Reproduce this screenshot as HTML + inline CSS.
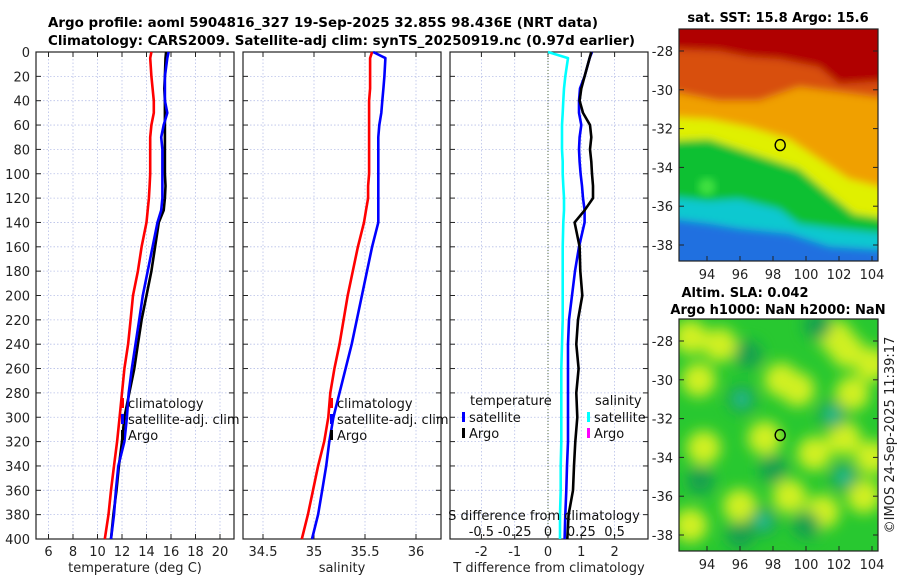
<!DOCTYPE html>
<html><head><meta charset="utf-8"><style>
body{margin:0;background:#fff;}
svg text{font-family:"DejaVu Sans","Liberation Sans",sans-serif;}
</style></head><body>
<svg id="fig" width="900" height="580" xmlns="http://www.w3.org/2000/svg">
<defs>
<filter id="bl" x="-20%" y="-20%" width="140%" height="140%"><feGaussianBlur stdDeviation="4"/></filter>
<filter id="bl2" x="-50%" y="-50%" width="200%" height="200%"><feGaussianBlur stdDeviation="7"/></filter>
<clipPath id="c1"><rect x="679" y="29" width="199" height="232"/></clipPath>
<clipPath id="c2"><rect x="679" y="319" width="199" height="232"/></clipPath>
</defs>
<text x="48" y="27" font-size="13.5" font-weight="bold" textLength="550" lengthAdjust="spacingAndGlyphs">Argo profile: aoml 5904816_327 19-Sep-2025 32.85S 98.436E (NRT data)</text>
<text x="48" y="45" font-size="13.5" font-weight="bold" textLength="587" lengthAdjust="spacingAndGlyphs">Climatology: CARS2009. Satellite-adj clim: synTS_20250919.nc (0.97d earlier)</text>
<g id="panels"></g>
<g id="maps"></g>
<text transform="translate(894,435) rotate(-90)" font-size="13" text-anchor="middle" fill="#222">©IMOS 24-Sep-2025 11:39:17</text>
</svg>
<script>
const depths = [0,5,20,30,40,50,60,70,80,90,100,110,120,130,140,160,180,200,220,240,260,280,300,320,340,360,380,400];
const tempClim = [14.4,14.3,14.4,14.5,14.6,14.6,14.4,14.3,14.3,14.3,14.3,14.25,14.2,14.1,14.0,13.6,13.3,12.9,12.7,12.5,12.2,12.0,11.8,11.6,11.35,11.1,10.9,10.6];
const tempSat = [15.8,15.7,15.5,15.5,15.5,15.7,15.4,15.2,15.3,15.3,15.3,15.3,15.3,15.2,14.9,14.5,14.1,13.7,13.4,13.1,12.8,12.55,12.4,12.2,11.7,11.5,11.35,11.1];
const tempArgo = [15.6,15.55,15.5,15.45,15.5,15.5,15.5,15.5,15.5,15.5,15.5,15.55,15.5,15.4,15.0,14.7,14.4,14.0,13.6,13.3,13.0,12.6,12.2,12.0,11.75,11.55,11.3,11.1];
const salClim = [35.57,35.55,35.55,35.55,35.54,35.54,35.54,35.54,35.54,35.54,35.54,35.53,35.53,35.51,35.49,35.43,35.38,35.33,35.29,35.25,35.2,35.16,35.14,35.1,35.04,34.99,34.94,34.88];
const salSat = [35.58,35.70,35.69,35.68,35.67,35.66,35.64,35.63,35.63,35.63,35.63,35.63,35.63,35.63,35.63,35.57,35.52,35.47,35.42,35.37,35.31,35.25,35.19,35.15,35.12,35.08,35.04,34.98];
const dTSat = [1.32,1.25,1.1,0.96,0.93,0.93,1.0,0.95,0.93,0.95,0.98,1.02,1.05,1.1,1.1,0.93,0.81,0.72,0.63,0.6,0.6,0.6,0.6,0.6,0.57,0.55,0.52,0.5];
const dTArgo = [1.3,1.25,1.1,1.0,0.95,1.05,1.26,1.3,1.26,1.3,1.32,1.35,1.35,1.1,0.8,0.95,0.97,1.03,0.9,0.85,0.92,0.85,0.88,0.82,0.78,0.75,0.62,0.58];
const dSSat = [0,0.15,0.13,0.12,0.115,0.11,0.105,0.105,0.105,0.11,0.11,0.115,0.12,0.12,0.115,0.11,0.11,0.11,0.11,0.105,0.1,0.1,0.1,0.1,0.095,0.095,0.09,0.09];
const depthTicks = [0,20,40,60,80,100,120,140,160,180,200,220,240,260,280,300,320,340,360,380,400];
const tempTicks = [6,8,10,12,14,16,18,20];
const salTicks = [34.5,35,35.5,36];
const dTTicks = [-2,-1,0,1,2];
const dSTickLabels = ["-0.5","-0.25","0","0.25","0.5"];
const dSTickVals = [-0.5,-0.25,0,0.25,0.5];
const latTicks = [-28,-30,-32,-34,-36,-38];
const lonTicks = [94,96,98,100,102,104];
const argoLon = 98.436, argoLat = -32.85;

const NS="http://www.w3.org/2000/svg";
function mk(tag,attrs,parent,txt){const e=document.createElementNS(NS,tag);for(const k in attrs)e.setAttribute(k,attrs[k]);if(txt!==undefined)e.textContent=txt;parent.appendChild(e);return e;}
const Y0=52,Y1=539;
const yD=d=>Y0+(d/400)*(Y1-Y0);
const xT=t=>48.5+(t-6)*12.25;
const xS=s=>314+(s-35)*102;
const xdT=v=>548+v*33.3;
const xdS=v=>548+v*133.2;
const panels=document.getElementById('panels');

function panel(x0,x1,name,ticks,fx,labels){
  const g=mk('g',{},panels);
  
  
  depthTicks.forEach(d=>{const l=mk('line',{x1:x0,x2:x1,y1:yD(d),y2:yD(d),stroke:'#b8c0e8','stroke-width':0.8,'stroke-dasharray':'1.5,2'},g);
    
    mk('line',{x1:x0,x2:x0+5,y1:yD(d),y2:yD(d),stroke:'#222'},g);mk('line',{x1:x1-5,x2:x1,y1:yD(d),y2:yD(d),stroke:'#222'},g);});
  ticks.forEach((t,i)=>{const x=fx(t);
    const l=mk('line',{x1:x,x2:x,y1:Y0,y2:Y1,stroke:'#b8c0e8','stroke-width':0.8,'stroke-dasharray':'1.5,2'},g);
    
    mk('line',{x1:x,x2:x,y1:Y1,y2:Y1-5,stroke:'#222'},g);mk('line',{x1:x,x2:x,y1:Y0,y2:Y0+5,stroke:'#222'},g);
    const tx=mk('text',{x:x,y:556,'font-size':13,'text-anchor':'middle',fill:'#222'},g,labels?labels[i]:String(t));
    });
  const fr=mk('rect',{x:x0,y:Y0,width:x1-x0,height:Y1-Y0,fill:'none',stroke:'#222','stroke-width':1.2},g);
  
  return g;
}
function line(g,vals,fx,color,name,w){
  const pts=vals.map((v,i)=>fx(v).toFixed(1)+','+yD(depths[i]).toFixed(1)).join(' ');
  const p=mk('polyline',{points:pts,fill:'none',stroke:color,'stroke-width':w||2.6,'stroke-linejoin':'round'},g);
  
}
function legendEntry(g,x,y,color,label,name){
  const e=mk('g',{},g);
  mk('rect',{x:x,y:y-10,width:3,height:10,fill:color},e);
  mk('text',{x:x+7,y:y,'font-size':13,fill:'#111'},e,label);
}
const g1=panel(36,234,'temperature-panel',tempTicks,xT);
depthTicks.forEach(d=>{const t=mk('text',{x:30,y:yD(d)+5,'font-size':13,'text-anchor':'end',fill:'#222'},g1,String(d));
  });
line(g1,tempClim,xT,'#ff0000','temp-climatology-line');
line(g1,tempArgo,xT,'#000','temp-argo-line');
line(g1,tempSat,xT,'#0000ff','temp-satellite-line');
legendEntry(g1,121,408,'#ff0000','climatology','legend-climatology');
legendEntry(g1,121,424,'#0000ff','satellite-adj. clim','legend-satellite-adj');
legendEntry(g1,121,440,'#000','Argo','legend-argo');
let t=mk('text',{x:135,y:572,'font-size':13,'text-anchor':'middle',fill:'#222'},g1,'temperature (deg C)');

const g2=panel(243,441,'salinity-panel',salTicks,xS);
line(g2,salClim,xS,'#ff0000','sal-climatology-line');
line(g2,salSat,xS,'#0000ff','sal-satellite-line');
legendEntry(g2,330,408,'#ff0000','climatology','legend-climatology-sal');
legendEntry(g2,330,424,'#0000ff','satellite-adj. clim','legend-satellite-adj-sal');
legendEntry(g2,330,440,'#000','Argo','legend-argo-sal');
t=mk('text',{x:342,y:572,'font-size':13,'text-anchor':'middle',fill:'#222'},g2,'salinity');

const g3=panel(450,648,'difference-panel',dTTicks,xdT);
const z=mk('line',{x1:xdT(0),x2:xdT(0),y1:Y0,y2:Y1,stroke:'#556b40','stroke-width':1,'stroke-dasharray':'1,2'},g3);

line(g3,dSSat,xdS,'#00ffff','sal-diff-satellite-line');
line(g3,dTSat,xdT,'#0000ff','temp-diff-satellite-line');
line(g3,dTArgo,xdT,'#000','temp-diff-argo-line');
t=mk('text',{x:470,y:405,'font-size':13,fill:'#111'},g3,'temperature');
t=mk('text',{x:595,y:405,'font-size':13,fill:'#111'},g3,'salinity');
legendEntry(g3,462,422,'#0000ff','satellite','legend-temp-satellite');
legendEntry(g3,462,438,'#000','Argo','legend-temp-argo');
legendEntry(g3,587,422,'#00ffff','satellite','legend-sal-satellite');
legendEntry(g3,587,438,'#ff00ff','Argo','legend-sal-argo');
t=mk('text',{x:544,y:520,'font-size':13,'text-anchor':'middle',fill:'#111'},g3,'S difference from climatology');

dSTickVals.forEach((v,i)=>{const tt=mk('text',{x:xdS(v),y:536,'font-size':13,'text-anchor':'middle',fill:'#111'},g3,dSTickLabels[i]);
  });
t=mk('text',{x:549,y:572,'font-size':13,'text-anchor':'middle',fill:'#222'},g3,'T difference from climatology');


const maps=document.getElementById('maps');
const mx=lon=>707+(lon-94)*16.5;
function mapAxes(g,top,name){
  const my=lat=>top+22+(-28-lat)*19.4;
  latTicks.forEach(l=>{const y=my(l);mk('line',{x1:878,x2:873,y1:y,y2:y,stroke:'#222'},g);mk('line',{x1:679,x2:684,y1:y,y2:y,stroke:'#222'},g);
    const tt=mk('text',{x:673,y:y+5,'font-size':13,'text-anchor':'end',fill:'#222'},g,String(l));});
  lonTicks.forEach(l=>{const x=mx(l);mk('line',{x1:x,x2:x,y1:top+232,y2:top+227,stroke:'#222'},g);
    const tt=mk('text',{x:x,y:top+250,'font-size':13,'text-anchor':'middle',fill:'#222'},g,String(l));});
  const fr=mk('rect',{x:679,y:top,width:199,height:232,fill:'none',stroke:'#222','stroke-width':1.2},g);
  
  const c=mk('ellipse',{cx:mx(argoLon),cy:my(argoLat),rx:5,ry:5.5,fill:'none',stroke:'#000','stroke-width':1.4},g);
  
}
const m1=mk('g',{'clip-path':'url(#c1)'},maps);

const L=(arr)=>arr.map(p=>(679+p[0])+','+(29+p[1])).join(' ');
mk('rect',{x:679,y:29,width:199,height:232,fill:'#2070e0'},m1);
const l1=mk('g',{filter:'url(#bl)'},m1);
mk('polygon',{points:L([[-10,-10],[210,-10],[210,222],[150,218],[110,205],[60,200],[30,195],[-10,190]]),fill:'#10c8d0'},l1);
mk('polygon',{points:L([[-10,-10],[210,-10],[210,205],[160,200],[120,195],[100,180],[60,170],[30,172],[-10,168]]),fill:'#10c030'},l1);
mk('polygon',{points:L([[-10,-10],[210,-10],[210,190],[175,185],[150,165],[120,140],[90,130],[60,120],[30,110],[-10,112]]),fill:'#e0f000'},l1);
mk('polygon',{points:L([[-10,-10],[210,-10],[210,160],[170,150],[140,130],[110,110],[70,98],[30,90],[-10,88]]),fill:'#f0a000'},l1);
mk('polygon',{points:L([[-10,-10],[210,-10],[210,70],[150,62],[120,58],[80,72],[40,72],[-10,62]]),fill:'#d85010'},l1);
mk('polygon',{points:L([[-10,-10],[210,-10],[210,52],[160,55],[140,38],[100,30],[70,28],[40,22],[-10,20]]),fill:'#b00000'},l1);
mk('circle',{cx:mx(94),cy:29+22+7*19.4,r:9,fill:'#40e040',filter:'url(#bl)'},m1);
mapAxes(maps,29,'sst-map');
t=mk('text',{x:778,y:22,'font-size':13,'font-weight':'bold','text-anchor':'middle'},maps,'sat. SST: 15.8 Argo: 15.6');

const m2=mk('g',{'clip-path':'url(#c2)'},maps);

mk('rect',{x:679,y:319,width:199,height:232,fill:'#28c830'},m2);
const my2=lat=>341+(-28-lat)*19.4;
const yb=[[93,-27.8],[94.8,-28.2],[93.5,-30],[99.5,-30.5],[98.5,-30],[101.8,-27.8],[102.5,-28.5],[102.8,-30.7],[102.3,-33],[104,-34],[93.8,-33.5],[99,-36],[100.5,-33.8],[103.5,-36],[97.5,-33],[96,-36.5],[101,-36.8],[93,-37.5],[104,-29.2]];
const yg=mk('g',{filter:'url(#bl2)'},m2);
yb.forEach(p=>mk('circle',{cx:mx(p[0]),cy:my2(p[1]),r:17,fill:'#d0f020'},yg));
const tb=[[96.1,-31],[101.6,-31.8],[102.3,-35],[97.4,-37.3],[93.6,-35.2],[100,-37.5],[96,-38],[100.7,-27.2],[96.5,-28.7],[98,-34.6]];
tb.forEach(p=>mk('circle',{cx:mx(p[0]),cy:my2(p[1]),r:14,fill:'#14a050'},yg));
[[96.1,-31],[97.4,-37.3],[102.3,-35],[101.6,-31.8]].forEach(p=>mk('circle',{cx:mx(p[0]),cy:my2(p[1]),r:6,fill:'#30d0b0'},yg));
mapAxes(maps,319,'sla-map');
t=mk('text',{x:745,y:297,'font-size':13,'font-weight':'bold','text-anchor':'middle'},maps,'Altim. SLA: 0.042');

t=mk('text',{x:778,y:314,'font-size':13,'font-weight':'bold','text-anchor':'middle'},maps,'Argo h1000: NaN h2000: NaN');

</script>
</body></html>
